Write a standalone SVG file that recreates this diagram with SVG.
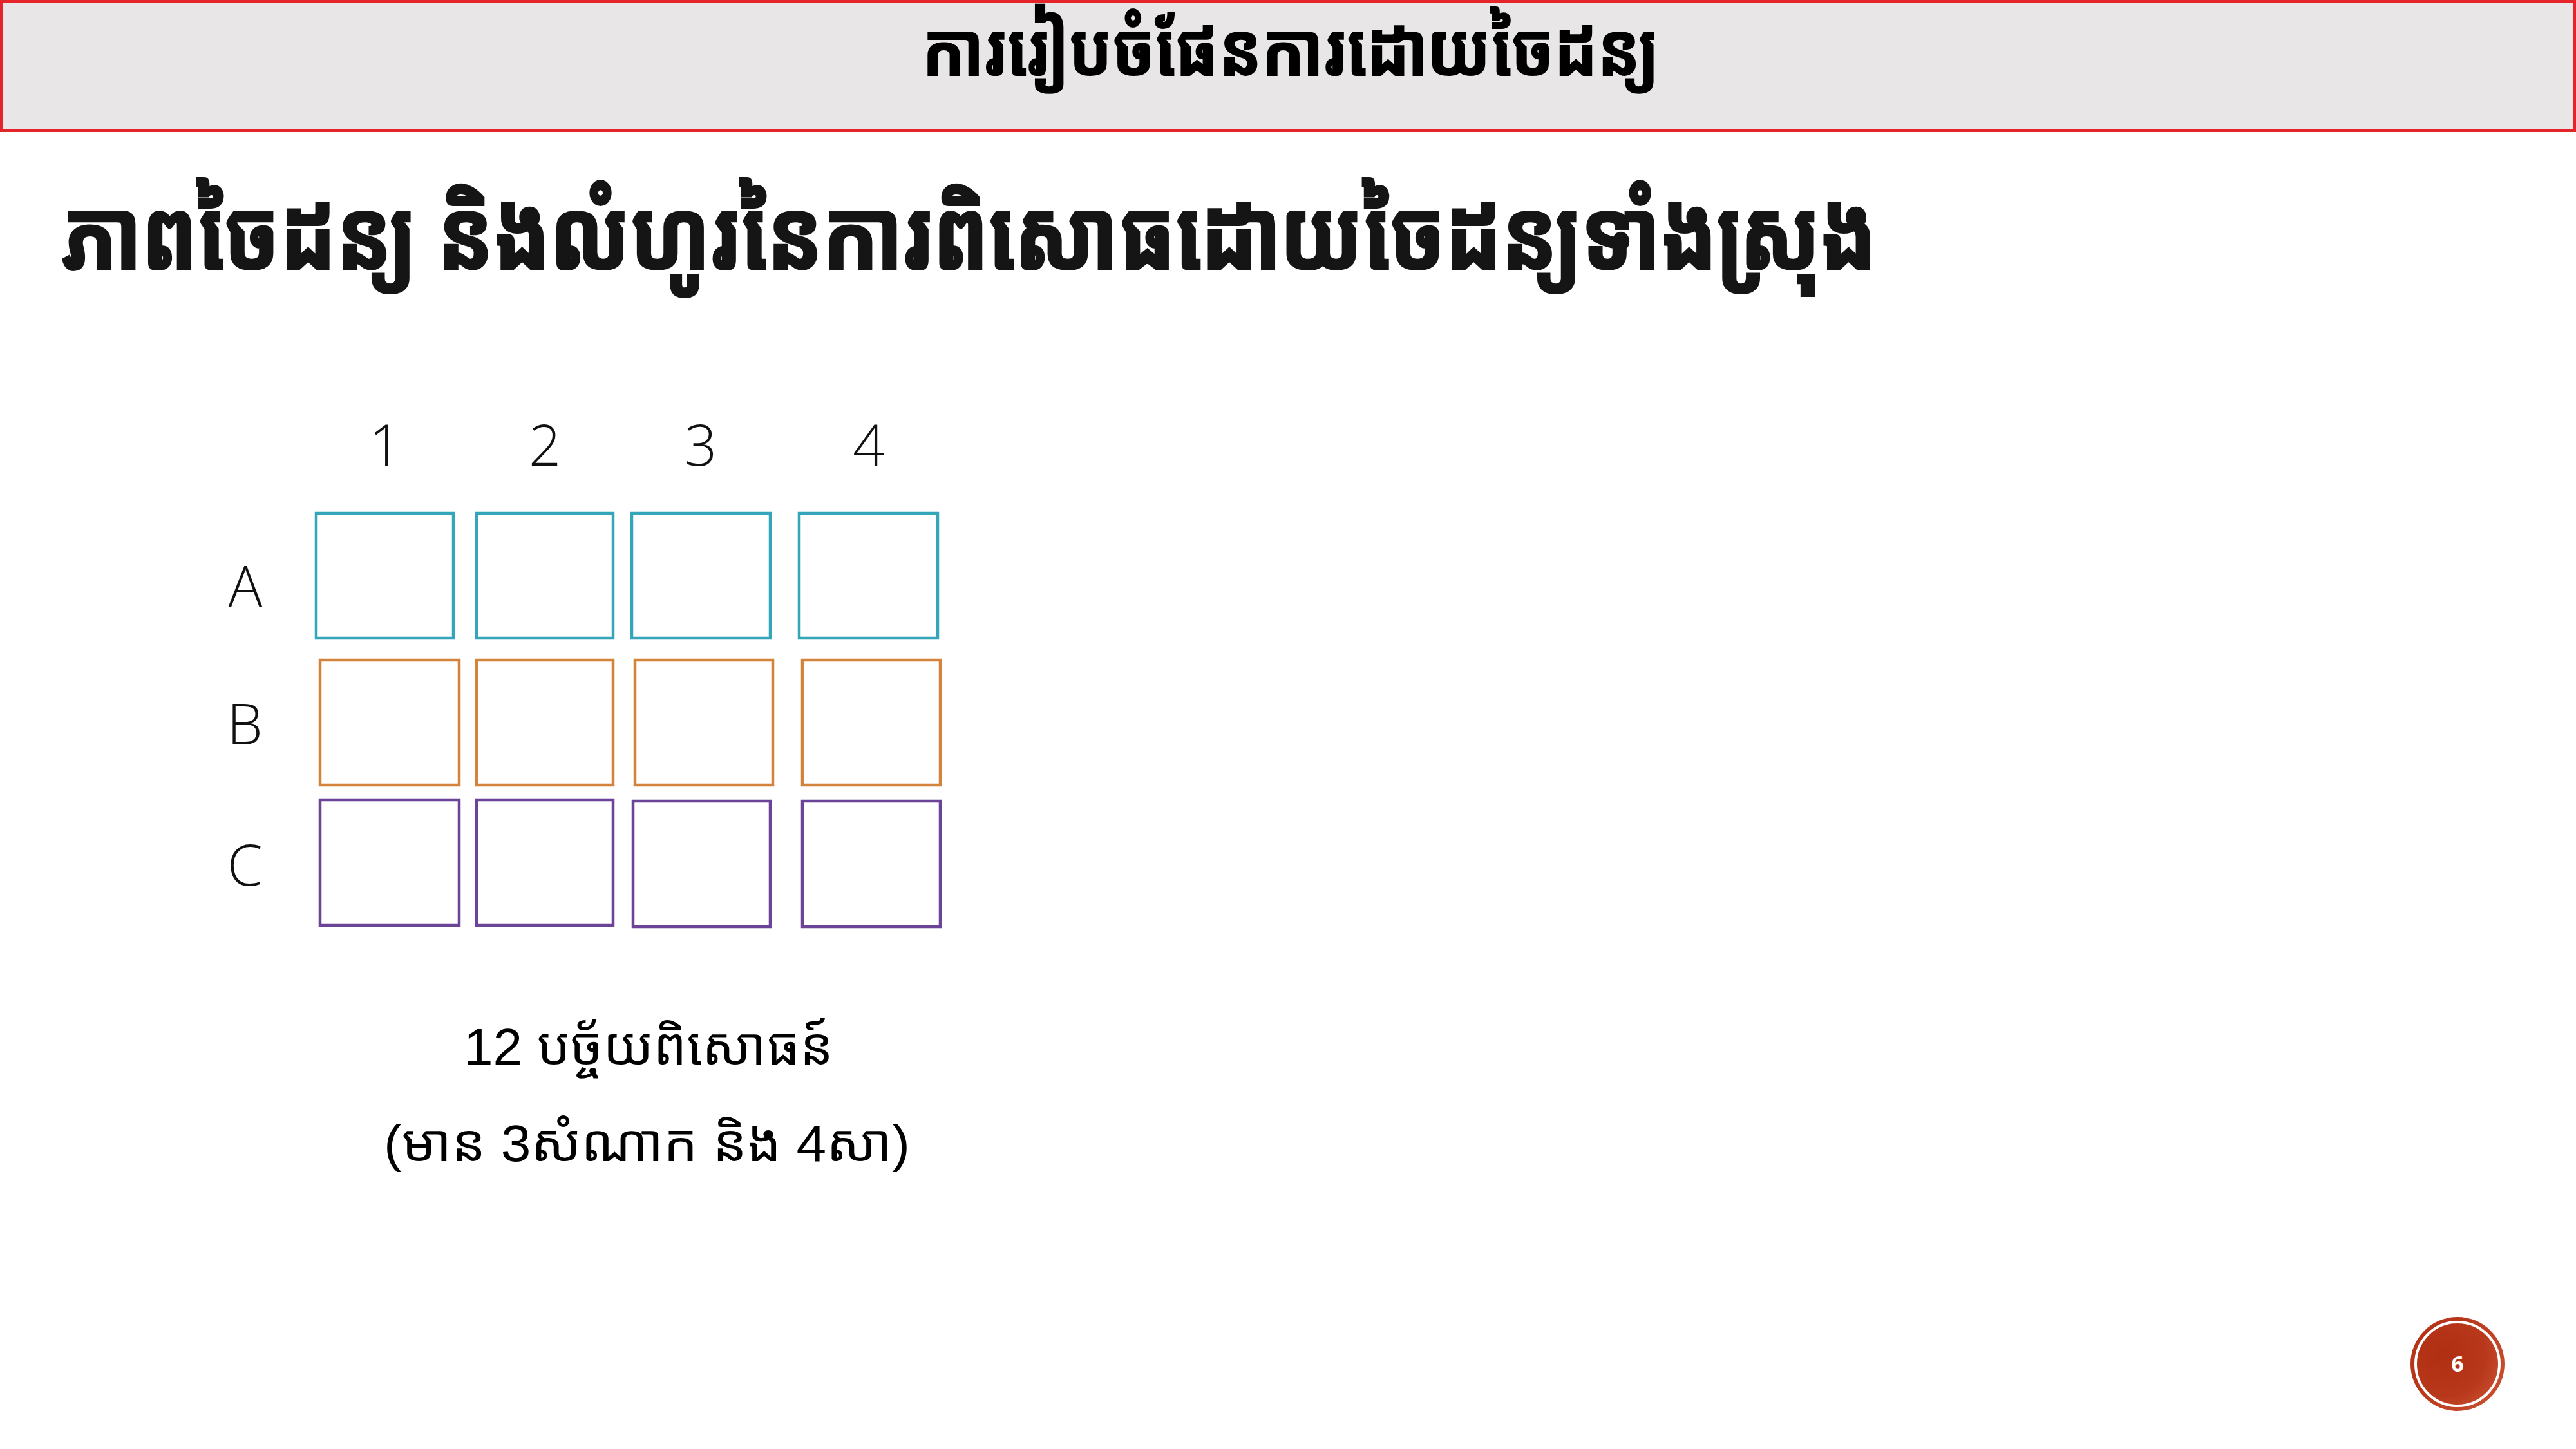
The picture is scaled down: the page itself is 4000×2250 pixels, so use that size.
<svg xmlns="http://www.w3.org/2000/svg" width="4000" height="2250" viewBox="0 0 4000 2250">
<style>
.km{font-family:"Noto Sans Khmer","Noto Serif Khmer","Khmer OS",sans-serif;}
.hd{font-weight:bold;font-size:114px;fill:#000;stroke:#000;stroke-width:2;}
.tt{font-weight:bold;font-size:152px;fill:#151515;stroke:#151515;stroke-width:4;}
.lbl{font-family:"Open Sans","Liberation Sans",sans-serif;font-weight:300;font-size:88px;fill:#111;}
.body{font-family:"Liberation Sans","Noto Sans Khmer",sans-serif;font-size:80px;fill:#000;}
.cell{fill:none;stroke-width:4.5;}
.ra{stroke:#35A6BA;}
.rb{stroke:#D4833C;}
.rc{stroke:#6B4397;}
</style>
<defs>
<radialGradient id="pg" cx="0.35" cy="0.4" r="0.75">
<stop offset="0" stop-color="#B02E12"/>
<stop offset="0.6" stop-color="#B8381B"/>
<stop offset="1" stop-color="#CC5534"/>
</radialGradient>
</defs>
<rect width="4000" height="2250" fill="#FFFFFF"/>
<g id="header">
<rect x="2" y="2" width="3996" height="201" fill="#E8E6E6" stroke="#E5232A" stroke-width="4"/>
<text class="km hd" x="1432" y="117" textLength="1144" lengthAdjust="spacingAndGlyphs">ការរៀបចំផែនការដោយចៃដន្យ</text>
</g>
<g id="title">
<text class="km tt" x="97" y="418" textLength="2817" lengthAdjust="spacingAndGlyphs">ភាពចៃដន្យ និងលំហូរនៃការពិសោធដោយចៃដន្យទាំងស្រុង</text>
</g>
<g id="col-labels" class="lbl" text-anchor="middle">
<text x="598" y="723">1</text>
<text x="846" y="723">2</text>
<text x="1088" y="723">3</text>
<text x="1349" y="723">4</text>
</g>
<g id="row-labels" class="lbl" text-anchor="middle">
<text x="381" y="942">A</text>
<text x="380" y="1156">B</text>
<text x="380" y="1375">C</text>
</g>
<g id="row-A">
<rect id="A1" class="cell ra" x="491" y="797" width="213" height="194"/>
<rect id="A2" class="cell ra" x="740" y="797" width="212" height="194"/>
<rect id="A3" class="cell ra" x="981" y="797" width="215" height="194"/>
<rect id="A4" class="cell ra" x="1241" y="797" width="215" height="194"/>
</g>
<g id="row-B">
<rect id="B1" class="cell rb" x="497" y="1025" width="216" height="194"/>
<rect id="B2" class="cell rb" x="740" y="1025" width="212" height="194"/>
<rect id="B3" class="cell rb" x="986" y="1025" width="214" height="194"/>
<rect id="B4" class="cell rb" x="1246" y="1025" width="214" height="194"/>
</g>
<g id="row-C">
<rect id="C1" class="cell rc" x="497" y="1242" width="216" height="195"/>
<rect id="C2" class="cell rc" x="740" y="1242" width="212" height="195"/>
<rect id="C3" class="cell rc" x="983" y="1244" width="213" height="195"/>
<rect id="C4" class="cell rc" x="1246" y="1244" width="214" height="195"/>
</g>
<g id="caption">
<text class="body" x="720" y="1653" textLength="574" lengthAdjust="spacingAndGlyphs">12 បច្ច័យពិសោធន៍</text>
<text class="body" x="596" y="1803" textLength="817" lengthAdjust="spacingAndGlyphs">(មាន 3សំណាក និង 4សា)</text>
</g>
<g id="page-number">
<circle cx="3816" cy="2118" r="73" fill="url(#pg)"/>
<circle cx="3816" cy="2118" r="65" fill="none" stroke="#FFFFFF" stroke-width="4"/>
<text x="3816" y="2130" text-anchor="middle" font-family="Open Sans, Liberation Sans, sans-serif" font-weight="bold" font-size="34" fill="#FFFFFF">6</text>
</g>
</svg>
